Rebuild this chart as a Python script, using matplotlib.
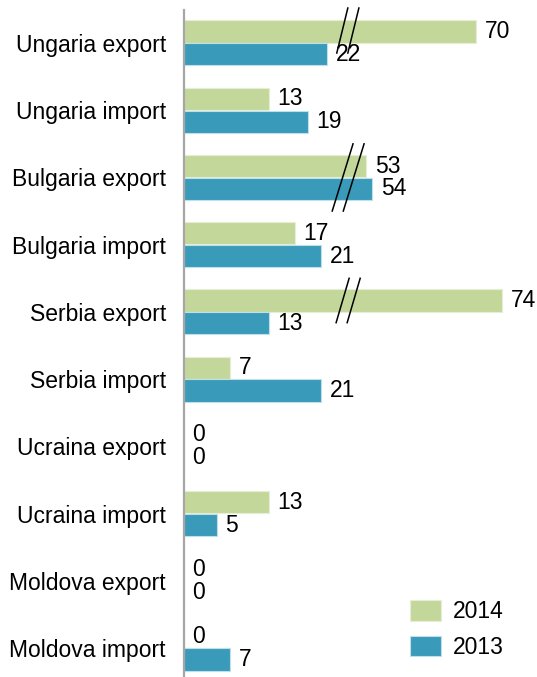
import matplotlib
matplotlib.use("Agg")
import matplotlib.pyplot as plt
import numpy as np

plt.rcParams['font.family'] = ['Liberation Sans', 'DejaVu Sans']

categories = ['Ungaria export', 'Ungaria import', 'Bulgaria export', 'Bulgaria import',
              'Serbia export', 'Serbia import', 'Ucraina export', 'Ucraina import',
              'Moldova export', 'Moldova import']
v2014 = [70, 13, 53, 17, 74, 7, 0, 13, 0, 0]
v2013 = [22, 19, 54, 21, 13, 21, 0, 5, 0, 7]
# rows where the long bars are drawn with a break
broken_rows = [0, 2, 4]

green = '#c4d79b'
blue = '#399aba'

# broken axis: values between 26 and 52 squeezed almost to nothing
xp = [0, 26, 52, 100]
fp = [0, 26, 27.0, 74.7]

def fwd(x):
    return np.interp(x, xp, fp)

def inv(x):
    return np.interp(x, fp, xp)

fig = plt.figure(figsize=(5.37, 6.77), dpi=100)
ax = fig.add_axes([184 / 537, 0, 353 / 537, 669 / 677])
ax.set_xscale('function', functions=(fwd, inv))

y = np.arange(len(categories))
h = 0.33
b1 = ax.barh(y - 0.17, v2014, height=h, color=green, edgecolor='#e6eed6', linewidth=0.8, label='2014')
b2 = ax.barh(y + 0.17, v2013, height=h, color=blue, edgecolor='#bfe0ea', linewidth=0.8, label='2013')

for bars, vals in ((b1, v2014), (b2, v2013)):
    for bar, v in zip(bars, vals):
        off = 6.5 if v > 0 else 5.5
        ax.annotate(str(v), (v, bar.get_y() + bar.get_height() / 2),
                    xytext=(off, 0), textcoords='offset points',
                    va='center', ha='left', fontsize=16.5)

# the // break marks (x given on the squeezed scale, mapped back to values)
marks = {0: (-0.52, 0.15, 25.2, 23.5), 2: (-0.5, 0.5, 26.0, 22.8), 4: (-0.5, 0.16, 25.4, 23.4)}
for r in broken_rows:
    y0, y1, x0, x1 = marks[r]
    for dx in (0, 1.7):
        ax.plot(inv([x0 + dx, x1 + dx]), [r + y0, r + y1], color='black', lw=1.1, clip_on=False)

ax.set_xlim(0, 79.47)
ax.set_ylim(9.43, -0.52)
ax.set_yticks(y)
ax.set_yticklabels(categories, fontsize=16.5)
ax.set_xticks([])
ax.tick_params(axis='y', length=0, pad=13)
for s in ('top', 'right', 'bottom'):
    ax.spines[s].set_visible(False)
ax.spines['left'].set_color('#a6a6a6')
ax.spines['left'].set_linewidth(1.6)
ax.spines['left'].set_bounds(9.43, -0.49)

ax.legend(loc='upper left', bbox_to_anchor=(410 / 537, 1 - 600 / 677),
          bbox_transform=fig.transFigure, frameon=False, fontsize=16.5,
          handlelength=1.35, handleheight=1.0, handletextpad=0.5,
          labelspacing=0.55, borderpad=0, borderaxespad=0)

fig.savefig('out.png', dpi=100)
